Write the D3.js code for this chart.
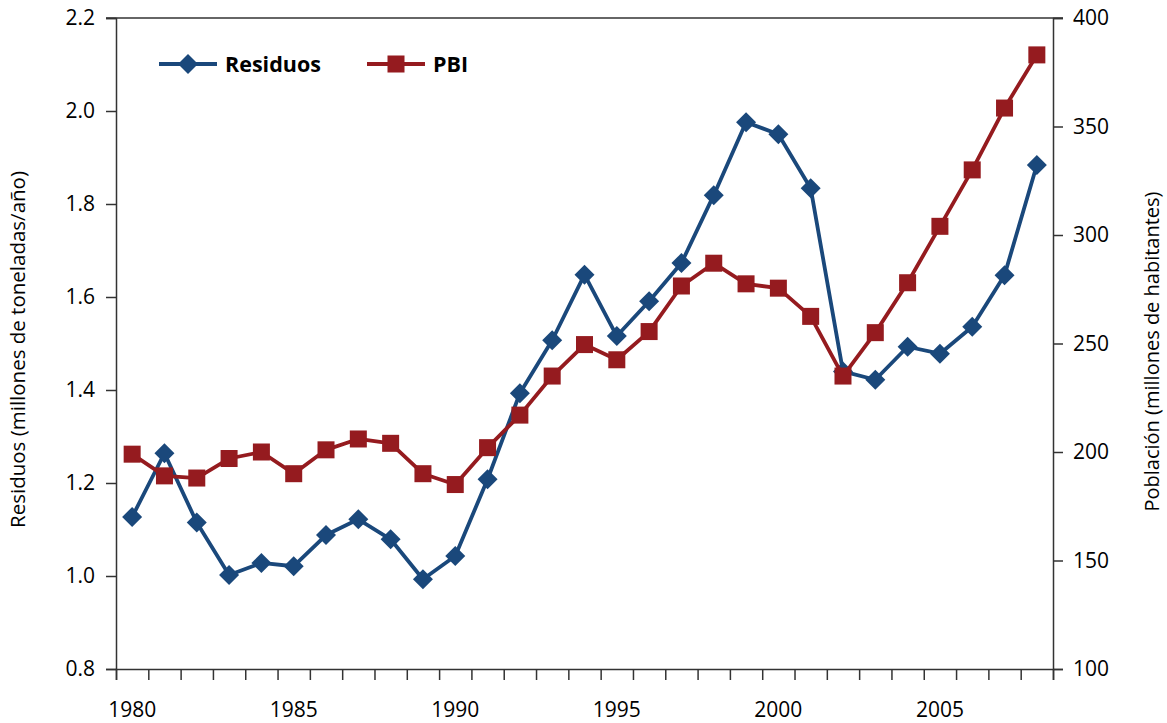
<!DOCTYPE html>
<html>
<head>
<meta charset="utf-8">
<script src="https://cdn.jsdelivr.net/npm/d3@7/dist/d3.min.js"></script>
<style>
	body { margin: 0; background: #ffffff; }
	svg { display: block; }
</style>
</head>
<body>
<svg id="chart"></svg>
<script>
// años
var years = [1980, 1981, 1982, 1983, 1984, 1985, 1986, 1987, 1988, 1989,
	1990, 1991, 1992, 1993, 1994, 1995, 1996, 1997, 1998, 1999,
	2000, 2001, 2002, 2003, 2004, 2005, 2006, 2007, 2008];

// residuos (millones de toneladas/año) - eje izquierdo
var residuos = [1.127, 1.264, 1.115, 1.002, 1.028, 1.021, 1.088, 1.122, 1.079, 0.993,
	1.043, 1.208, 1.393, 1.507, 1.648, 1.516, 1.591, 1.673, 1.819, 1.976,
	1.950, 1.834, 1.440, 1.422, 1.493, 1.478, 1.536, 1.647, 1.884];

// PBI - eje derecho
var pbi = [199, 189, 188, 197, 200, 190, 201, 206, 204, 190,
	185, 202, 217, 235, 249.5, 242.5, 255.5, 276.5, 287, 277.5,
	275.5, 262.5, 235, 255, 278, 304, 330, 358.5, 383];

var leftTicks = [0.8, 1.0, 1.2, 1.4, 1.6, 1.8, 2.0, 2.2];
var rightTicks = [100, 150, 200, 250, 300, 350, 400];
var yearLabels = [1980, 1985, 1990, 1995, 2000, 2005];

var seriesNames = ["Residuos", "PBI"];
var leftTitle = "Residuos (millones de toneladas/año)";
var rightTitle = "Población (millones de habitantes)";

/**
 * grafico
 */
var chartObj = {

	svg : null,

	layout : {
		width : 1167,
		height : 723,
		left : 116,
		right : 1053,
		top : 18,
		bottom : 669
	},

	colors : {
		residuos : "#1a487b",
		pbi : "#951b1f",
		axis : "#333333"
	},

	font : "'Open Sans', 'DejaVu Sans', sans-serif",

	init : function(id) {
		var that = this;
		var l = that.layout;

		that.svg = d3.select(id).attr("width", l.width).attr("height", l.height);

		// escala x: cada año ocupa una banda, los puntos van al centro
		that.x = d3.scaleLinear().domain([years[0], years[years.length - 1] + 1]).range([l.left, l.right]);
		that.yLeft = d3.scaleLinear().domain([0.8, 2.2]).range([l.bottom, l.top]);
		that.yRight = d3.scaleLinear().domain([100, 400]).range([l.bottom, l.top]);
	},

	draw : function() {
		var that = this;
		that.drawAxes();
		that.drawSeries(residuos, that.yLeft, that.colors.residuos, "diamond");
		that.drawSeries(pbi, that.yRight, that.colors.pbi, "square");
		that.drawLegend();
	},

	drawAxes : function() {
		var that = this;
		var l = that.layout;
		var svg = that.svg;

		// eje izquierdo
		var gl = svg.append("g").attr("transform", "translate(" + l.left + ",0)")
			.call(d3.axisLeft(that.yLeft).tickValues(leftTicks).tickSize(10).tickPadding(11)
				.tickFormat(d3.format(".1f")));
		// eje derecho
		var gr = svg.append("g").attr("transform", "translate(" + l.right + ",0)")
			.call(d3.axisRight(that.yRight).tickValues(rightTicks).tickSize(10).tickPadding(10)
				.tickFormat(d3.format("d")));
		// eje inferior: marcas en los limites de cada año
		var tickYears = years.concat([years[years.length - 1] + 1]);
		var gb = svg.append("g").attr("transform", "translate(0," + l.bottom + ")")
			.call(d3.axisBottom(that.x).tickValues(tickYears).tickSize(11).tickFormat(""));

		[gl, gr, gb].forEach(function(g) {
			g.select(".domain").attr("stroke", that.colors.axis).attr("stroke-width", 1.5);
			g.selectAll(".tick line").attr("stroke", that.colors.axis).attr("stroke-width", 1.5);
			g.selectAll(".tick text").attr("fill", "#000000").attr("font-size", "21px")
				.attr("font-family", that.font);
		});

		// etiquetas de años centradas en la banda
		svg.append("g").selectAll("text").data(yearLabels).join("text")
			.attr("x", function(d) { return that.x(d + 0.5); })
			.attr("y", l.bottom + 48)
			.attr("text-anchor", "middle")
			.attr("font-size", "21px")
			.attr("font-family", that.font)
			.attr("fill", "#000000")
			.text(function(d) { return d; });

		// linea superior del marco
		svg.append("line").attr("x1", l.left - 10).attr("x2", l.right + 10)
			.attr("y1", l.top).attr("y2", l.top)
			.attr("stroke", that.colors.axis).attr("stroke-width", 1.5);

		// titulos de ejes
		var midY = (l.top + l.bottom) / 2;
		svg.append("text")
			.attr("transform", "translate(25," + (midY + 6) + ") rotate(-90)")
			.attr("text-anchor", "middle")
			.attr("font-size", "20.5px")
			.attr("font-family", that.font)
			.text(leftTitle);
		svg.append("text")
			.attr("transform", "translate(1159," + (midY + 8) + ") rotate(-90)")
			.attr("text-anchor", "middle")
			.attr("font-size", "20px")
			.attr("font-family", that.font)
			.text(rightTitle);
	},

	drawSeries : function(values, yScale, color, shape) {
		var that = this;
		var pts = years.map(function(yr, i) { return [that.x(yr + 0.5), yScale(values[i])]; });

		that.svg.append("path")
			.attr("d", d3.line()(pts))
			.attr("fill", "none")
			.attr("stroke", color)
			.attr("stroke-width", 3.8)
			.attr("stroke-linejoin", "round");

		pts.forEach(function(p) {
			that.drawMarker(p[0], p[1], color, shape);
		});
	},

	drawMarker : function(cx, cy, color, shape) {
		var that = this;
		if (shape == "diamond") {
			var r = 10;
			return that.svg.append("path")
				.attr("d", "M" + cx + "," + (cy - r) + "L" + (cx + r) + "," + cy + "L" + cx + "," + (cy + r) + "L" + (cx - r) + "," + cy + "Z")
				.attr("fill", color);
		}
		var s = 17;
		return that.svg.append("rect")
			.attr("x", cx - s / 2).attr("y", cy - s / 2)
			.attr("width", s).attr("height", s)
			.attr("fill", color);
	},

	drawLegend : function() {
		var that = this;
		var y = 64;
		var items = [
			{ name : seriesNames[0], color : that.colors.residuos, shape : "diamond", x : 159 },
			{ name : seriesNames[1], color : that.colors.pbi, shape : "square", x : 367 }
		];
		items.forEach(function(it) {
			that.svg.append("line").attr("x1", it.x).attr("x2", it.x + 58)
				.attr("y1", y).attr("y2", y)
				.attr("stroke", it.color).attr("stroke-width", 3.8);
			that.drawMarker(it.x + 29, y, it.color, it.shape);
			that.svg.append("text")
				.attr("x", it.x + 66).attr("y", y + 8)
				.attr("font-size", "21.5px")
				.attr("font-weight", "bold")
				.attr("font-family", that.font)
				.text(it.name);
		});
	}
};

chartObj.init("#chart");
chartObj.draw();
</script>
</body>
</html>
